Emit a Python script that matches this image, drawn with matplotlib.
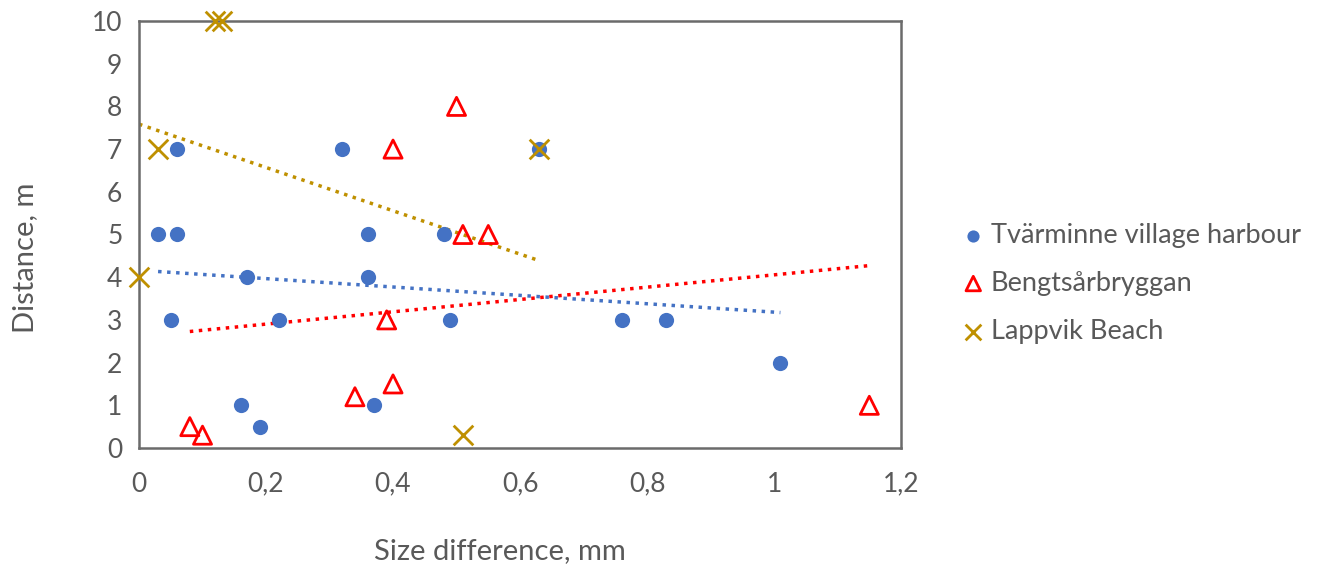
import numpy as np
import matplotlib.pyplot as plt

plt.rcParams['font.family'] = ['Lato', 'DejaVu Sans']

# Tvärminne village harbour
tv_x = [0.06, 0.03, 0.06, 0.05, 0.17, 0.22, 0.32, 0.36, 0.36, 0.16, 0.19, 0.37, 0.48, 0.49, 0.63, 0.76, 0.83, 1.01]
tv_y = [7, 5, 5, 3, 4, 3, 7, 5, 4, 1, 0.5, 1, 5, 3, 7, 3, 3, 2]
# Bengtsårbryggan
be_x = [0.50, 0.40, 0.51, 0.55, 0.39, 0.40, 0.34, 0.08, 0.10, 1.15]
be_y = [8, 7, 5, 5, 3, 1.5, 1.2, 0.5, 0.3, 1]
# Lappvik Beach
la_x = [0.12, 0.13, 0.03, 0.0, 0.63, 0.51]
la_y = [10, 10, 7, 4, 7, 0.3]

xticks = [0, 0.2, 0.4, 0.6, 0.8, 1, 1.2]
xtick_labels = ['0', '0,2', '0,4', '0,6', '0,8', '1', '1,2']
yticks = list(range(0, 11))

blue = '#4472C4'
red = '#FF0000'
gold = '#BF9000'
grey = '#595959'

fig = plt.figure(figsize=(13.29, 5.75), dpi=100)
ax = fig.add_axes([0.1046, 0.2209, 0.5734, 0.7426])

ax.scatter(tv_x, tv_y, s=120, color=blue, marker='o', linewidths=0, zorder=3,
           clip_on=False, label='Tvärminne village harbour')
ax.scatter(be_x, be_y, s=170, facecolors='none', edgecolors=red, marker='^', linewidths=2,
           zorder=3, clip_on=False, label='Bengtsårbryggan')
ax.scatter(la_x, la_y, s=200, color=gold, marker='x', linewidths=2, zorder=4,
           clip_on=False, label='Lappvik Beach')

# linear trendlines over each series' x range
for xs, ys, c in [(tv_x, tv_y, blue), (be_x, be_y, red), (la_x, la_y, gold)]:
    k, b = np.polyfit(xs, ys, 1)
    xx = np.array([min(xs), max(xs)])
    ax.plot(xx, k * xx + b, color=c, linestyle=(0, (1, 1.6)), linewidth=2.5, zorder=2)

ax.set_xlim(0, 1.2)
ax.set_ylim(0, 10)
ax.set_xticks(xticks)
ax.set_xticklabels(xtick_labels)
ax.set_yticks(yticks)
ax.tick_params(length=0, labelsize=19, colors=grey)
ax.tick_params(axis='x', pad=17)
ax.tick_params(axis='y', pad=12)
for sp in ax.spines.values():
    sp.set_color('#6b6b6b')
    sp.set_linewidth(1.8)

ax.set_xlabel('Size difference, mm', fontsize=21, color=grey, labelpad=28)
ax.xaxis.set_label_coords(0.474, -0.21)
ax.set_ylabel('Distance, m', fontsize=21, color=grey)
ax.yaxis.set_label_coords(-0.132, 0.445)

ax.legend(loc='center left', bbox_to_anchor=(1.045, 0.386), frameon=False, fontsize=19.5,
          labelcolor=grey, handletextpad=0.15, labelspacing=0.85, markerscale=0.8,
          handlelength=1.0)

fig.savefig('out.png', dpi=100)
